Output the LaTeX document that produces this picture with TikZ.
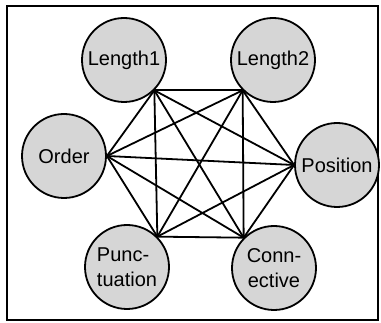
\documentclass[tikz,border=0pt]{standalone}
\usepackage{fontspec}
\setmainfont{Liberation Sans}
\usetikzlibrary{positioning}

\begin{document}
\begin{tikzpicture}[x=1pt,y=-1pt,
        feat/.style={draw,circle,fill=black!16,line width=1.8pt,minimum size=84pt,inner sep=0pt,font=\fontsize{20}{25}\selectfont},
        link/.style={line width=1.8pt}]
        \useasboundingbox (0,0) rectangle (381,323);
        \draw [line width=2pt] (7,6) rectangle (378,320.5);

        \node [feat] at (124,60) (len1){Length1};
        \node [feat] at (273,60) (len2){Length2};
        \node [feat] at (64,156) (ord){Order};
        \node [feat] at (337,165) (pos){Position};
        \node [feat,align=left] at (127,267) (pun){Punc-\\tuation};
        \node [feat,align=center] at (274,268) (con){Conn-\\ective};

        \draw [link] (len1.south east) -- (len2.south west);
        \draw [link] (len1.south east) -- (ord.east);
        \draw [link] (len1.south east) -- (pos.west);
        \draw [link] (len1.south east) -- (pun.north east);
        \draw [link] (len1.south east) -- (con.north west);
        \draw [link] (len2.south west) -- (ord.east);
        \draw [link] (len2.south west) -- (pos.west);
        \draw [link] (len2.south west) -- (pun.north east);
        \draw [link] (len2.south west) -- (con.north west);
        \draw [link] (ord.east) -- (pos.west);
        \draw [link] (ord.east) -- (pun.north east);
        \draw [link] (ord.east) -- (con.north west);
        \draw [link] (pos.west) -- (pun.north east);
        \draw [link] (pos.west) -- (con.north west);
        \draw [link] (pun.north east) -- (con.north west);
\end{tikzpicture}
\end{document}
